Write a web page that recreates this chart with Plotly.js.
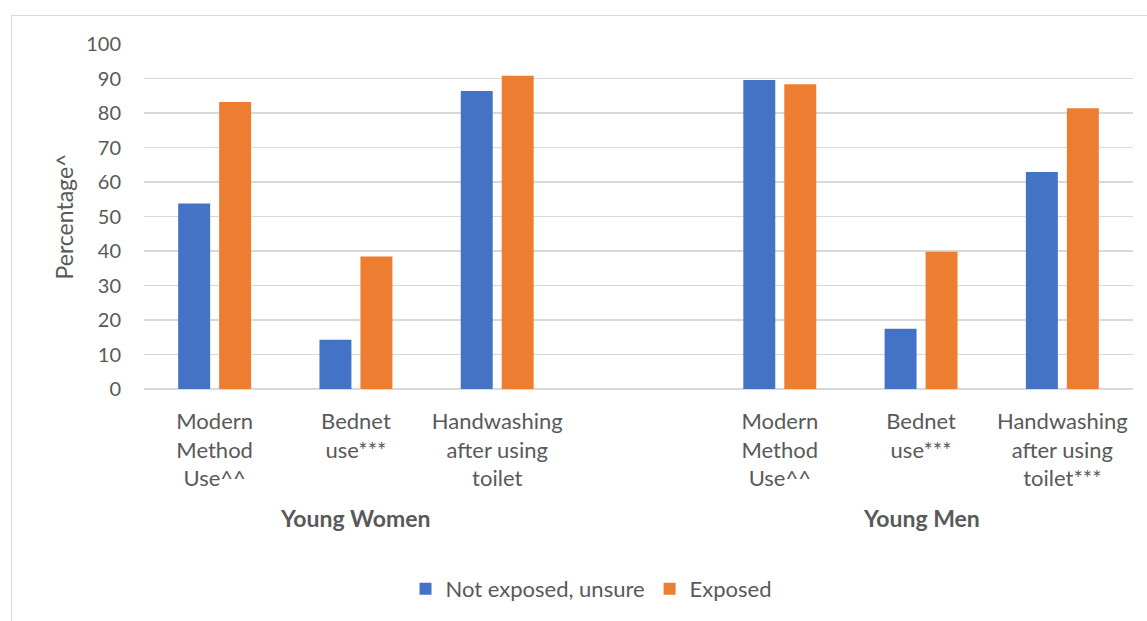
<!DOCTYPE html>
<html>
<head>
<meta charset="utf-8">
<script src="https://cdn.plot.ly/plotly-3.0.1.min.js"></script>
<style>
  html, body { margin: 0; padding: 0; background: #ffffff; }
  #wrap { position: relative; width: 1147px; height: 621px; overflow: hidden; }
  #frame { position: absolute; left: 11px; top: 15px; width: 1160px; height: 640px; border: 1.5px solid #d9d9d9; box-sizing: border-box; }
  #chart { position: absolute; left: 0; top: 0; width: 1147px; height: 621px; }
</style>
</head>
<body>
<div id="wrap">
  <div id="frame"></div>
  <div id="chart"></div>
</div>
<script>
// Full category list; the empty string is the spacer between the two groups
const categories = [
  "Modern<br>Method<br>Use^^",
  "Bednet<br>use***",
  "Handwashing<br>after using<br>toilet",
  "",
  "Modern<br>Method<br>Use^^",
  "Bednet<br>use***",
  "Handwashing<br>after using<br>toilet***"
];
const groups = ["Young Women", "Young Men"];
const groupCenters = [1, 5]; // index of the middle category of each group
const seriesNames = ["Not exposed, unsure", "Exposed"];
const notExposed = [53.8, 14.3, 86.4, null, 89.6, 17.5, 62.9];
const exposed    = [83.2, 38.4, 90.8, null, 88.3, 39.8, 81.4];
const colors = ["#4472c4", "#ed7d31"];

const xIdx = categories.map((c, i) => i);
const font = "Lato, 'Open Sans', sans-serif";
const grey = "#595959";

const traces = [notExposed, exposed].map((vals, k) => ({
  type: "bar",
  name: seriesNames[k],
  x: xIdx,
  y: vals,
  marker: { color: colors[k] },
  hoverinfo: "y+name"
}));

const layout = {
  width: 1147,
  height: 621,
  margin: { l: 144, r: 14, t: 44, b: 231 },
  paper_bgcolor: "rgba(0,0,0,0)",
  plot_bgcolor: "rgba(0,0,0,0)",
  barmode: "group",
  bargap: 0.42,
  bargroupgap: 0.22,
  font: { family: font, color: grey, size: 20 },
  showlegend: true,
  legend: {
    orientation: "h",
    x: 0.4525, xanchor: "center",
    y: -0.575, yanchor: "middle",
    font: { family: font, color: grey, size: 22 },
    itemwidth: 30,
    tracegroupgap: 0
  },
  xaxis: {
    type: "linear",
    range: [-0.5, categories.length - 0.5],
    tickmode: "array",
    tickvals: xIdx,
    ticktext: categories,
    showgrid: false,
    zeroline: false,
    showline: false,
    ticks: "",
    ticklabelstandoff: 17,
    tickfont: { family: font, color: grey, size: 22 },
    fixedrange: true
  },
  yaxis: {
    range: [0, 100],
    dtick: 10,
    showgrid: true,
    gridcolor: "#d9d9d9",
    gridwidth: 1.5,
    zeroline: true,
    zerolinecolor: "#d9d9d9",
    zerolinewidth: 1.5,
    showline: false,
    ticks: "",
    ticklabelstandoff: 22,
    tickfont: { family: font, color: grey, size: 20 },
    title: { text: "Percentage^", font: { family: font, color: grey, size: 23 }, standoff: 6 },
    fixedrange: true
  },
  annotations: groups.map((g, i) => ({
    text: "<b>" + g + "</b>",
    x: groupCenters[i],
    xref: "x",
    y: -0.373,
    yref: "paper",
    xanchor: "center",
    yanchor: "middle",
    showarrow: false,
    font: { family: font, color: grey, size: 23 }
  }))
};

Plotly.newPlot("chart", traces, layout, { displayModeBar: false, staticPlot: true });
</script>
</body>
</html>
